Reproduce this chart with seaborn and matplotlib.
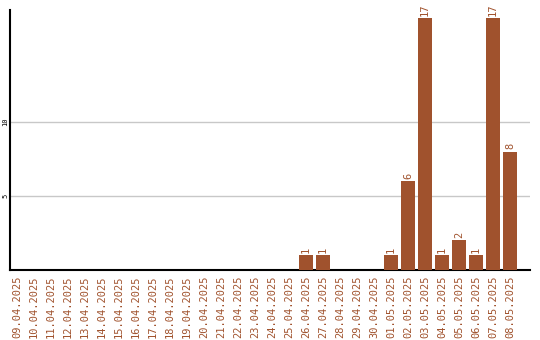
import matplotlib
matplotlib.use("Agg")
import matplotlib.pyplot as plt
import seaborn as sns
import pandas as pd

dates = ["09.04.2025", "10.04.2025", "11.04.2025", "12.04.2025", "13.04.2025",
         "14.04.2025", "15.04.2025", "16.04.2025", "17.04.2025", "18.04.2025",
         "19.04.2025", "20.04.2025", "21.04.2025", "22.04.2025", "23.04.2025",
         "24.04.2025", "25.04.2025", "26.04.2025", "27.04.2025", "28.04.2025",
         "29.04.2025", "30.04.2025", "01.05.2025", "02.05.2025", "03.05.2025",
         "04.05.2025", "05.05.2025", "06.05.2025", "07.05.2025", "08.05.2025"]
counts = [0, 0, 0, 0, 0, 0, 0, 0, 0, 0,
          0, 0, 0, 0, 0, 0, 0, 1, 1, 0,
          0, 0, 1, 6, 17, 1, 2, 1, 17, 8]
yticks = [5, 10]

sns.set_style("white")
plt.rcParams['font.family'] = ['DejaVu Sans Mono']

color = "#A0522D"
df = pd.DataFrame({"date": dates, "count": counts})

fig = plt.figure(figsize=(5.4, 3.4), dpi=100)
ax = fig.add_axes([10/540, 70/340, 520/540, 260/340])
sns.barplot(data=df, x="date", y="count", color=color, width=0.82,
            saturation=1, ax=ax, zorder=3)
for p in ax.patches:
    p.set_edgecolor("none")

for i, v in enumerate(counts):
    if v > 0:
        ax.text(i, v + 0.15, str(v), rotation=90, ha="center", va="bottom",
                fontsize=7.5, color=color)

ax.set_xlim(-0.41, 30.18)
ax.set_ylim(0, 17.57)
ax.set_yticks(yticks)
ax.set_yticklabels([str(t) for t in yticks], rotation=90, va="center",
                   fontsize=5, color="black")
ax.yaxis.grid(True, color="#c8c8c8", linewidth=1, zorder=0)
ax.xaxis.grid(False)
ax.tick_params(axis="x", labelrotation=90, labelsize=7.5, labelcolor=color,
               length=0, pad=4)
ax.tick_params(axis="y", length=0, pad=1)
ax.set_xlabel("")
ax.set_ylabel("")
for s in ["top", "right"]:
    ax.spines[s].set_visible(False)
for s in ["left", "bottom"]:
    ax.spines[s].set_color("black")
    ax.spines[s].set_linewidth(1.5)

fig.savefig("out.png", dpi=100)
